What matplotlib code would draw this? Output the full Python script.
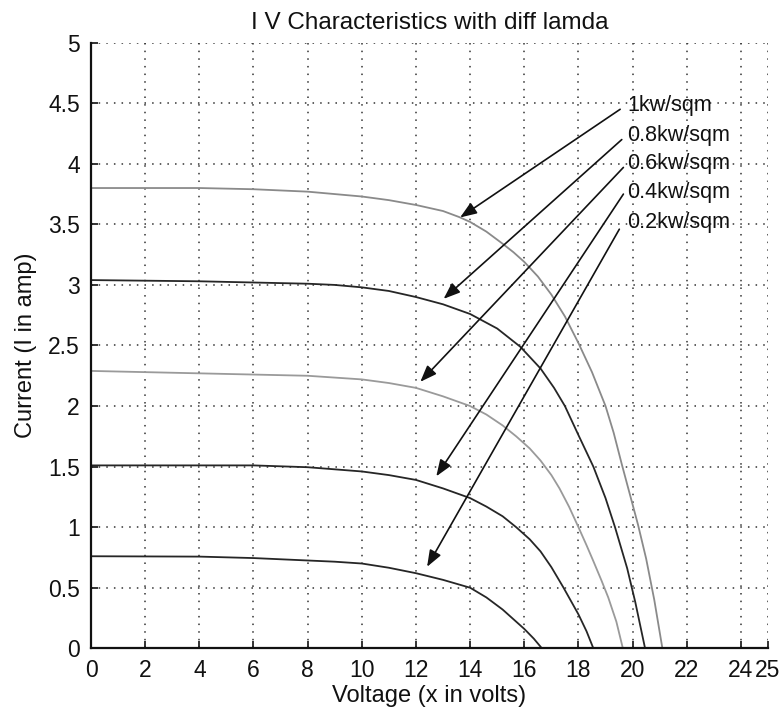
import matplotlib
matplotlib.use("Agg")
import matplotlib.pyplot as plt

plt.rcParams['font.family'] = ['Liberation Sans', 'DejaVu Sans']

# ---- data ----
v_1000 = [0, 4, 6, 8, 10, 11, 12, 13, 13.6, 14, 14.6, 15.2, 15.6, 16.0, 16.5, 17.0, 17.5, 18.0, 18.5,
          19.0, 19.3, 19.6, 19.9, 20.2, 20.5, 20.8, 21.1]
i_1000 = [3.80, 3.80, 3.79, 3.77, 3.73, 3.70, 3.66, 3.61, 3.56, 3.52, 3.44, 3.34, 3.27, 3.19, 3.07, 2.92, 2.74, 2.52, 2.28,
          2.00, 1.78, 1.52, 1.27, 1.02, 0.74, 0.40, 0.0]

v_800 = [0, 4, 8, 9, 10, 11, 12, 13, 14, 15.0, 15.85, 16.6, 17.1, 17.5, 18.0, 18.55, 19.0, 19.35, 19.8, 20.1, 20.46]
i_800 = [3.04, 3.03, 3.01, 3.00, 2.98, 2.95, 2.90, 2.84, 2.76, 2.64, 2.49, 2.31, 2.15, 2.00, 1.76, 1.50, 1.24, 1.00, 0.66, 0.38, 0.0]

v_600 = [0, 4, 8, 10, 11, 12, 13, 14, 14.6, 15.2, 15.7, 16.2, 16.6, 17.0, 17.3, 17.65, 18.0, 18.3, 18.55, 18.85,
         19.1, 19.4, 19.64]
i_600 = [2.29, 2.27, 2.25, 2.22, 2.19, 2.15, 2.08, 2.00, 1.93, 1.84, 1.75, 1.65, 1.55, 1.43, 1.32, 1.17, 1.00, 0.85, 0.72, 0.56,
         0.42, 0.22, 0.0]

v_400 = [0, 6, 8, 10, 11, 12, 13, 14, 14.6, 15.2, 15.7, 16.2, 16.6, 17.0, 17.45, 18.0, 18.3, 18.55]
i_400 = [1.51, 1.51, 1.495, 1.46, 1.43, 1.39, 1.32, 1.24, 1.17, 1.09, 1.00, 0.90, 0.80, 0.67, 0.50, 0.28, 0.14, 0.0]

v_200 = [0, 4, 6, 8, 9, 10, 11, 12, 13, 14, 14.6, 15.2, 15.6, 16.0, 16.35, 16.65]
i_200 = [0.76, 0.757, 0.745, 0.725, 0.715, 0.70, 0.665, 0.62, 0.565, 0.50, 0.42, 0.32, 0.24, 0.16, 0.08, 0.0]

labels = ['1kw/sqm', '0.8kw/sqm', '0.6kw/sqm', '0.4kw/sqm', '0.2kw/sqm']
label_y = [4.48, 4.235, 4.0, 3.76, 3.515]
arrow_start = [(19.54, 4.45), (19.6, 4.20), (19.66, 3.97), (19.66, 3.75), (19.51, 3.46)]
arrow_tip = [(13.63, 3.557), (13.02, 2.885), (12.16, 2.20), (12.75, 1.42), (12.41, 0.673)]

xticks = [0, 2, 4, 6, 8, 10, 12, 14, 16, 18, 20, 22, 24, 25]
yticks = [0, 0.5, 1, 1.5, 2, 2.5, 3, 3.5, 4, 4.5, 5]
ytick_labels = ['0', '0.5', '1', '1.5', '2', '2.5', '3', '3.5', '4', '4.5', '5']

# ---- figure ----
fig = plt.figure(figsize=(7.82, 7.10), dpi=100)
ax = fig.add_axes([0.1164, 0.0869, 0.8657, 0.853])

series = [(v_1000, i_1000, '#8a8a8a'), (v_800, i_800, '#262626'),
          (v_600, i_600, '#9a9a9a'), (v_400, i_400, '#262626'),
          (v_200, i_200, '#262626')]
for v, i, c in series:
    ax.plot(v, i, color=c, lw=1.3, solid_joinstyle='round')

for lab, ly, (sx, sy), (tx, ty) in zip(labels, label_y, arrow_start, arrow_tip):
    ax.annotate('', xy=(tx, ty), xytext=(sx, sy),
                arrowprops=dict(arrowstyle='-|>,head_length=1.0,head_width=0.38',
                                color='#111111', lw=1.2, shrinkA=0, shrinkB=0))
    ax.text(19.8, ly, lab, fontsize=15.5, va='center', ha='left', color='#111111')

ax.set_xlim(0, 25)
ax.set_ylim(0, 5)
ax.set_xticks(xticks)
ax.set_xticklabels([str(t) for t in xticks])
ax.set_yticks(yticks)
ax.set_yticklabels(ytick_labels)
ax.tick_params(direction='in', length=5, width=1.2, labelsize=16.5, pad=8, colors='#111111')
ax.grid(True, linestyle=(0, (1, 4)), color='#333333', lw=1.1)

for s in ['top', 'right']:
    ax.spines[s].set_visible(False)
for s in ['left', 'bottom']:
    ax.spines[s].set_linewidth(1.6)
    ax.spines[s].set_color('#111111')

ax.set_xlabel('Voltage (x in volts)', fontsize=17, labelpad=2, color='#111111')
ax.set_ylabel('Current (I in amp)', fontsize=17, labelpad=8, color='#111111')
ax.set_title('I V Characteristics with diff lamda', fontsize=17.5, pad=10, color='#111111')

fig.savefig('out.png', dpi=100)
